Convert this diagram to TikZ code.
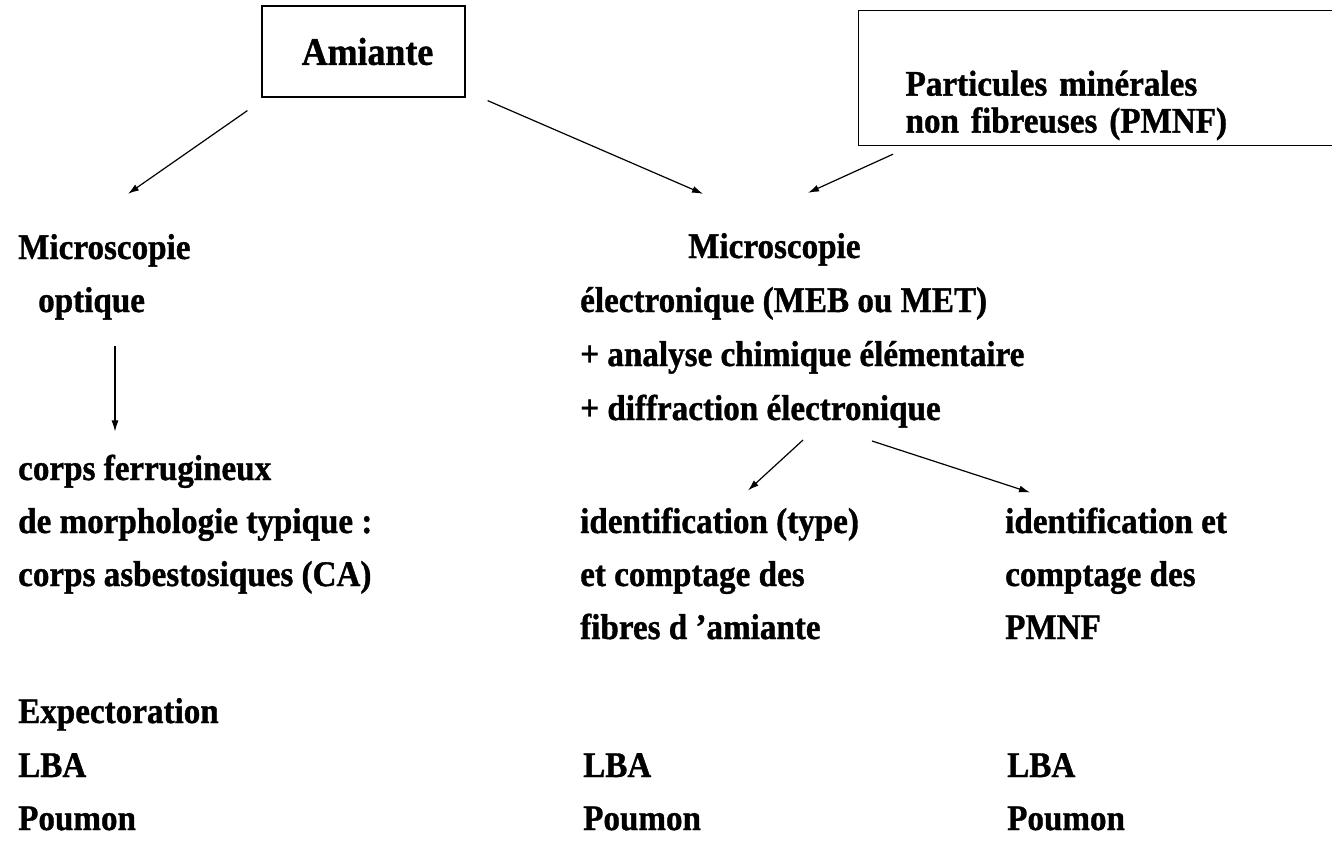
\documentclass[tikz,border=0pt]{standalone}
\usepackage{fontspec}
\setmainfont{Liberation Serif}[FakeBold=1, FakeStretch=0.92]
\usepackage{tikz}
\usetikzlibrary{arrows.meta}
\newcommand{\txtfont}{\fontsize{36}{40}\selectfont\bfseries}
\newcommand{\boxfont}{\fontsize{36}{37}\selectfont\bfseries}
\newcommand{\titrefont}{\fontsize{39}{42}\selectfont\bfseries}

\begin{document}
\begin{tikzpicture}[x=1pt,y=-1pt,
	ligne/.style={anchor=base west, inner sep=0pt, font=\txtfont},
	cadre/.style={draw, line width=1.2pt},
	fleche/.style={-{Latex[length=11pt,width=7pt]}, line width=1.2pt}]
\clip (0,0) rectangle (1332,843);
\fill[white] (0,0) rectangle (1332,843);

% Boxes at the top
\node[cadre, minimum width=203pt, minimum height=91pt, inner sep=0pt, font=\titrefont] (amiante) at (363.5,51.5) {\hspace*{8pt}Amiante};
\node[cadre, anchor=north west, align=left, text width=394pt, inner xsep=47pt, inner ysep=0pt,
	text height=85pt, text depth=50pt, font=\boxfont] (pmnf) at (858,10) {Particules minérales\\non fibreuses (PMNF)};

% Left column: optical microscopy
\node[ligne] (mo1) at (18,259) {Microscopie};
\node[ligne] (mo2) at (38,312) {optique};
\node[ligne] (cf1) at (18,480) {corps ferrugineux};
\node[ligne] (cf2) at (18,533) {de morphologie typique :};
\node[ligne] (cf3) at (18,586) {corps asbestosiques (CA)};
\node[ligne] (ech1) at (18,723) {Expectoration};
\node[ligne] (ech2) at (18,777) {LBA};
\node[ligne] (ech3) at (18,830) {Poumon};

% Middle column: electron microscopy
\node[ligne] (me1) at (688,258) {Microscopie};
\node[ligne] (me2) at (580,312) {électronique (MEB ou MET)};
\node[ligne] (me3) at (580,366) {+ analyse chimique élémentaire};
\node[ligne] (me4) at (580,420) {+ diffraction électronique};
\node[ligne] (id1) at (580,533) {identification (type)};
\node[ligne] (id2) at (580,586) {et comptage des};
\node[ligne] (id3) at (580,639) {fibres d ’amiante};
\node[ligne] (lba2) at (583,777) {LBA};
\node[ligne] (pou2) at (583,830) {Poumon};

% Right column
\node[ligne] (ip1) at (1005,533) {identification et};
\node[ligne] (ip2) at (1005,586) {comptage des};
\node[ligne] (ip3) at (1005,639) {PMNF};
\node[ligne] (lba3) at (1007,777) {LBA};
\node[ligne] (pou3) at (1007,830) {Poumon};

% Arrows
\draw[fleche] ([shift={(-14,13)}]amiante.south west) -- ([shift={(110,-40)}]mo1.north west);
\draw[fleche] ([shift={(22,3)}]amiante.south east) -- ([shift={(15,-39)}]me1.north west);
\draw[fleche] ([shift={(35,8)}]pmnf.south west) -- ([shift={(120,-40)}]me1.north west);
\draw[fleche] ([shift={(77,34)}]mo2.base west) -- ([shift={(97,-23)}]cf1.north west);
\draw[fleche] ([shift={(223,20)}]me4.base west) -- ([shift={(168,-17)}]id1.north west);
\draw[fleche] ([shift={(292,21)}]me4.base west) -- ([shift={(25,-15)}]ip1.north west);
\end{tikzpicture}
\end{document}
